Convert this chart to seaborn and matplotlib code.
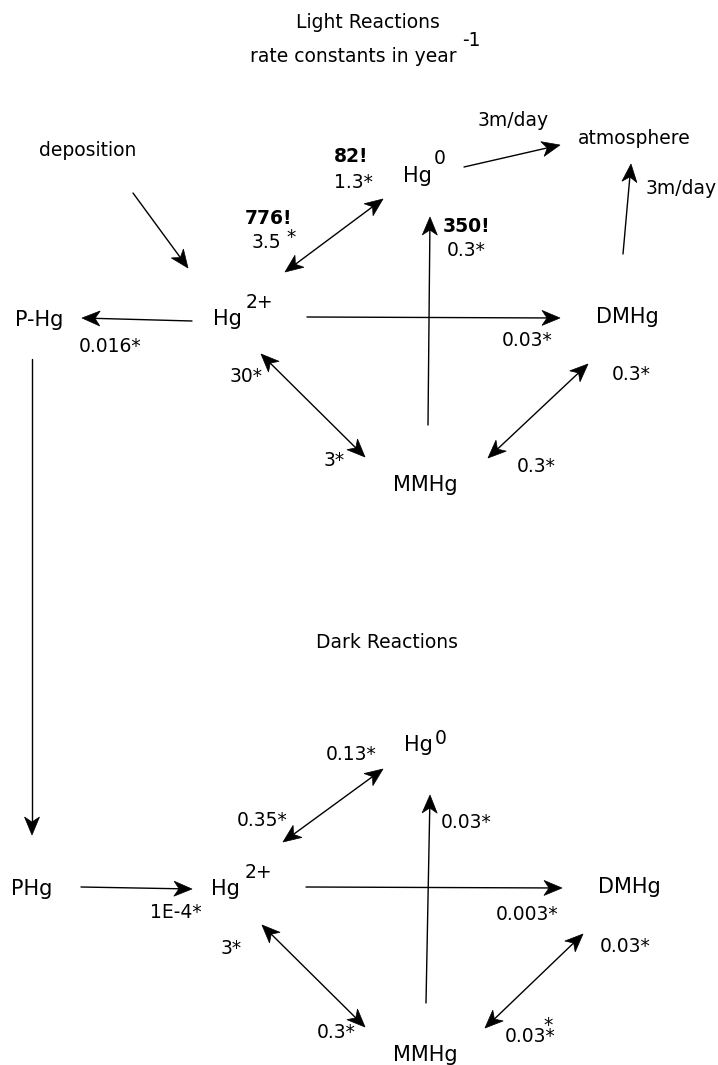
# Mercury cycling scheme: light and dark reaction rate constants
import numpy as np
import matplotlib
matplotlib.use("Agg")
import matplotlib.pyplot as plt
from matplotlib.patches import Polygon
import seaborn as sns

# text content
title_light = "Light Reactions"
title_units = "rate constants in year"
title_dark = "Dark Reactions"
light_species = ["Hg", "Hg", "P-Hg", "DMHg", "MMHg"]
light_sup = ["0", "2+"]
dark_species = ["Hg", "Hg", "PHg", "DMHg", "MMHg"]
dark_sup = ["0", "2+"]
fluxes = ["deposition", "atmosphere", "3m/day", "3m/day"]

# rate constants (year^-1), ! = measured, * = model
light_measured = ["82!", "776!", "350!"]
light_rates = ["1.3*", "3.5", "0.3*", "0.016*", "0.03*", "30*", "3*", "0.3*", "0.3*"]
dark_rates = ["0.13*", "0.35*", "0.03*", "1E-4*", "0.003*", "3*", "0.3*", "0.03*", "0.03*"]

sns.set_theme(style="white")
plt.rcParams['font.family'] = ['DejaVu Sans']

fig = plt.figure(figsize=(7.18, 10.65), dpi=100)
ax = fig.add_axes([0, 0, 1, 1])
ax.set_xlim(0, 718)
ax.set_ylim(1065, 0)
ax.axis('off')


def txt(x, y, s, size=13.5, bold=False):
    ax.text(x, y, s, fontsize=size, ha='center', va='center',
            fontweight='bold' if bold else 'normal', color='black')


def head(tip, u, L=18, W=7.5):
    # concave arrow head (inkscape style)
    n = np.array([-u[1], u[0]])
    pts = [tip, tip - L * u + W * n, tip - 0.72 * L * u, tip - L * u - W * n]
    ax.add_patch(Polygon(pts, closed=True, facecolor='black', edgecolor='black', lw=0.5))


def arrow(x0, y0, x1, y1, both=False):
    a = np.array([x0, y0], float)
    b = np.array([x1, y1], float)
    u = (b - a) / np.hypot(*(b - a))
    start = a + 0.7 * 18 * u if both else a
    end = b - 0.7 * 18 * u
    ax.plot([start[0], end[0]], [start[1], end[1]], color='black', lw=1.0)
    head(b, u)
    if both:
        head(a, -u)


# ---- light reactions ----
txt(368, 23, title_light)
txt(353, 57, title_units)
txt(471, 40, "-1")
txt(88, 150, fluxes[0])
txt(634, 138, fluxes[1])
txt(513, 120, fluxes[2])
txt(681, 188, fluxes[3])

txt(417, 176, light_species[0], 15)
txt(440, 158, light_sup[0])
txt(227, 319, light_species[1], 15)
txt(259, 302, light_sup[1])
txt(39, 320, light_species[2], 15)
txt(627, 317, light_species[3], 15)
txt(425, 485, light_species[4], 15)

txt(351, 157, light_measured[0], bold=True)
txt(269, 218, light_measured[1], bold=True)
txt(466, 226, light_measured[2], bold=True)

txt(266, 243, light_rates[1])
txt(353, 183, light_rates[0])
txt(291, 238, "*")
txt(466, 250, light_rates[2])
txt(110, 347, light_rates[3])
txt(527, 341, light_rates[4])
txt(246, 377, light_rates[5])
txt(334, 461, light_rates[6])
txt(631, 375, light_rates[7])
txt(536, 466, light_rates[8])

arrow(133, 193, 188, 268)
arrow(464, 167, 560, 145)
arrow(623, 254, 631, 164)
arrow(285, 272, 383, 199, both=True)
arrow(428, 425, 430, 217)
arrow(192, 321, 82, 318)
arrow(307, 317, 560, 318)
arrow(261, 354, 365, 457, both=True)
arrow(488, 458, 588, 364, both=True)
arrow(32, 359, 32, 835)

# ---- dark reactions ----
txt(387, 642, title_dark)
txt(418, 745, dark_species[0], 15)
txt(441, 738, dark_sup[0])
txt(225, 889, dark_species[1], 15)
txt(258, 872, dark_sup[1])
txt(32, 889, dark_species[2], 15)
txt(629, 887, dark_species[3], 15)
txt(425, 1055, dark_species[4], 15)

txt(351, 755, dark_rates[0])
txt(262, 820, dark_rates[1])
txt(466, 822, dark_rates[2])
txt(176, 912, dark_rates[3])
txt(527, 914, dark_rates[4])
txt(231, 949, dark_rates[5])
txt(336, 1032, dark_rates[6])
txt(625, 947, dark_rates[7])
txt(530, 1037, dark_rates[8])
txt(548, 1025, "*")

arrow(283, 842, 383, 769, both=True)
arrow(426, 1003, 430, 795)
arrow(81, 887, 192, 889)
arrow(306, 887, 562, 888)
arrow(262, 925, 365, 1027, both=True)
arrow(485, 1028, 583, 934, both=True)

fig.savefig("out.png", dpi=100, facecolor='white')
